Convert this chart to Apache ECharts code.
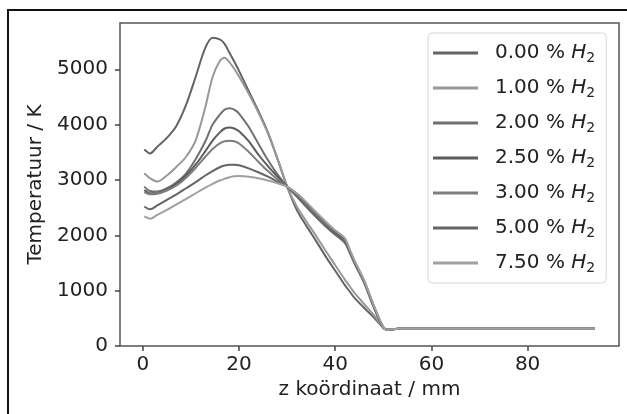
<!DOCTYPE html>
<html>
<head>
<meta charset="utf-8">
<script src="https://cdn.jsdelivr.net/npm/echarts@6/dist/echarts.min.js"></script>
<style>
  html, body { margin: 0; padding: 0; background: #fff; }
  #chart { width: 627px; height: 414px; }
</style>
</head>
<body>
<div id="chart"></div>
<script>
'use strict';

// z coordinate (mm), shared by all runs
var zPos = [0.3, 1.5, 3, 5, 7, 9, 11, 13, 14.5, 16, 17, 18, 19, 20, 22, 24, 26, 28, 30,
  32, 34, 36, 38, 40, 42, 43, 44, 46, 48, 50, 51, 53, 94];

// temperature (K) per H2 fraction
var t000 = [3550, 3480, 3600, 3760, 3980, 4360, 4870, 5390, 5570, 5540, 5460, 5300, 5140, 4970, 4610, 4250, 3860, 3380, 2880,
  2460, 2170, 1900, 1620, 1360, 1100, 985, 870, 690, 520, 330, 290, 310, 310];
var t100 = [3120, 3030, 2970, 3080, 3240, 3420, 3720, 4320, 4860, 5150, 5210, 5130, 5010, 4870, 4560, 4220, 3840, 3380, 2880,
  2520, 2250, 1990, 1720, 1460, 1200, 1080, 960, 760, 560, 340, 295, 310, 310];
var t200 = [2880, 2800, 2790, 2850, 2960, 3120, 3380, 3700, 4000, 4180, 4270, 4295, 4270, 4200, 3960, 3660, 3360, 3100, 2880,
  2700, 2510, 2330, 2160, 2010, 1860, 1690, 1490, 1140, 700, 330, 295, 310, 310];
var t250 = [2820, 2760, 2760, 2830, 2930, 3080, 3280, 3520, 3710, 3860, 3930, 3950, 3930, 3880, 3700, 3460, 3250, 3060, 2880,
  2720, 2540, 2360, 2190, 2040, 1900, 1700, 1510, 1160, 710, 330, 295, 310, 310];
var t300 = [2780, 2740, 2750, 2810, 2900, 3040, 3220, 3420, 3560, 3660, 3700, 3710, 3700, 3660, 3510, 3330, 3160, 3010, 2880,
  2730, 2560, 2380, 2210, 2060, 1920, 1720, 1520, 1170, 720, 335, 295, 310, 310];
var t500 = [2520, 2470, 2540, 2640, 2740, 2850, 2960, 3080, 3160, 3230, 3260, 3275, 3275, 3265, 3210, 3140, 3060, 2970, 2880,
  2750, 2580, 2400, 2230, 2070, 1930, 1730, 1530, 1180, 730, 340, 295, 310, 310];
var t750 = [2340, 2300, 2370, 2460, 2560, 2660, 2760, 2860, 2930, 2990, 3020, 3050, 3065, 3070, 3060, 3030, 2990, 2940, 2880,
  2760, 2600, 2420, 2250, 2090, 1950, 1750, 1550, 1190, 740, 345, 295, 310, 310];

var runNames = ['0.00', '1.00', '2.00', '2.50', '3.00', '5.00', '7.50'];
var runValues = [t000, t100, t200, t250, t300, t500, t750];
var runColors = ['#646464', '#989898', '#707070', '#5c5c5c', '#7e7e7e', '#656565', '#a0a0a0'];

var xTicks = [0, 20, 40, 60, 80];
var yTicks = [0, 1000, 2000, 3000, 4000, 5000];

var font = 'DejaVu Sans';

function pairs(ys) {
  return ys.map(function(y, i) { return [zPos[i], y]; });
}

var series = runNames.map(function(name, i) {
  return {
    name: name,
    type: 'line',
    data: pairs(runValues[i]),
    showSymbol: false,
    smooth: 0.3,
    color: runColors[i],
    lineStyle: { width: 2, color: runColors[i] }
  };
});

var myChart = echarts.init(document.getElementById('chart'));
var option = {
  backgroundColor: '#fff',
  animation: false,
  textStyle: { fontFamily: font },
  graphic: [{
    type: 'rect',
    shape: { x: 8, y: 10, width: 660, height: 440 },
    style: { fill: 'none', stroke: '#111', lineWidth: 2 },
    silent: true
  }],
  grid: {
    left: 120, top: 23, right: 8, bottom: 68,
    show: true, borderColor: '#555', borderWidth: 1.5, backgroundColor: 'transparent'
  },
  legend: {
    left: 428, top: 33,
    orient: 'vertical',
    data: runNames,
    icon: 'rect',
    itemWidth: 45,
    itemHeight: 3,
    itemGap: 11,
    padding: [8, 11, 8, 5],
    borderColor: '#d8d8d8',
    borderWidth: 1,
    borderRadius: 4,
    backgroundColor: 'rgba(255,255,255,0.85)',
    formatter: function(n) { return '{a|' + n + ' % }{b|H}{c|2}'; },
    textStyle: {
      padding: [0, 0, 0, 12],
      lineHeight: 24,
      rich: {
        a: { fontFamily: font, fontSize: 20, color: '#222', lineHeight: 24 },
        b: { fontFamily: font, fontSize: 20, fontStyle: 'italic', color: '#222', lineHeight: 24 },
        c: { fontFamily: font, fontSize: 14, color: '#222', lineHeight: 14, verticalAlign: 'bottom' }
      }
    }
  },
  xAxis: {
    type: 'value',
    min: -4.75, max: 99,
    name: 'z koördinaat / mm',
    nameLocation: 'middle',
    nameGap: 31,
    nameTextStyle: { fontFamily: font, fontSize: 20, color: '#222' },
    axisLine: { show: false, onZero: false },
    axisTick: { show: true, length: 5, inside: false, customValues: xTicks, lineStyle: { color: '#444', width: 1.5 } },
    axisLabel: { customValues: xTicks, margin: 9, fontFamily: font, fontSize: 20, color: '#222' },
    splitLine: { show: false }
  },
  yAxis: {
    type: 'value',
    min: 0, max: 5836,
    name: 'Temperatuur / K',
    nameLocation: 'middle',
    nameGap: 72,
    nameTextStyle: { fontFamily: font, fontSize: 20, color: '#222' },
    axisLine: { show: false, onZero: false },
    axisTick: { show: true, length: 5, inside: false, customValues: yTicks, lineStyle: { color: '#444', width: 1.5 } },
    axisLabel: {
      customValues: yTicks, margin: 12, fontFamily: font, fontSize: 20, color: '#222',
      formatter: function(v) { return String(v); }
    },
    splitLine: { show: false }
  },
  series: series
};
myChart.setOption(option);
</script>
</body>
</html>
